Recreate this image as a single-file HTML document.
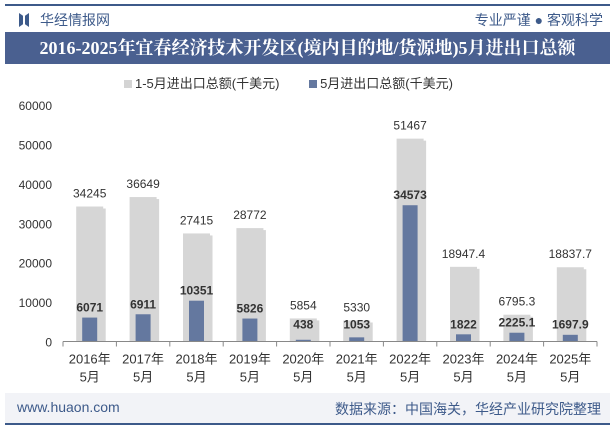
<!DOCTYPE html>
<html><head><meta charset="utf-8"><style>
body{margin:0;width:615px;height:427px;background:#fff;font-family:"Liberation Sans","Noto Sans CJK SC",sans-serif;overflow:hidden;position:relative}
.abs{position:absolute}
</style></head><body>
<div class="abs" style="left:5px;top:4px;width:605px;height:2px;background:#3d5a8a"></div>
<div class="abs" style="left:19px;top:13px;width:10px;height:14px;background:#3d5a8a;clip-path:polygon(0 0,40% 20%,40% 80%,0 100%,0 0,100% 0,100% 100%,60% 80%,60% 20%,100% 0)"></div>
<div class="abs" style="left:40px;top:10px;font-size:14px;color:#3d5a8a">华经情报网</div>
<div class="abs" style="right:12px;top:10px;font-size:14px;color:#3d5a8a">专业严谨 ● 客观科学</div>
<div class="abs" style="left:5px;top:32px;width:605px;height:32px;background:#4a6090;color:#fff;font:bold 18px 'Liberation Serif','Noto Serif CJK SC',serif;text-align:center;line-height:32px">2016-2025年宜春经济技术开发区(境内目的地/货源地)5月进出口总额</div>
<div class="abs" style="left:124px;top:73px;font-size:13px;color:#333;white-space:nowrap">
<span><span style="display:inline-block;width:8px;height:8px;background:#d4d4d4;margin-right:3px"></span>1-5月进出口总额(千美元)</span>
<span style="margin-left:26px"><span style="display:inline-block;width:8px;height:8px;background:#64789f;margin-right:3px"></span>5月进出口总额(千美元)</span></div>
<svg class="abs" style="left:0;top:0" width="615" height="427" id="chart"></svg>
<div class="abs" style="left:5px;top:393px;width:605px;height:30px;background:#f2f3f7;border-bottom:2px solid #3d5a8a"></div>
<div class="abs" style="left:17px;top:399px;font-size:14px;color:#3d5a8a">www.huaon.com</div>
<div class="abs" style="right:14px;top:399px;font-size:14px;color:#3d5a8a">数据来源：中国海关，华经产业研究院整理</div>
<script>
const categories=["2016年","2017年","2018年","2019年","2020年","2021年","2022年","2023年","2024年","2025年"];
const totalValues=[34245,36649,27415,28772,5854,5330,51467,18947.4,6795.3,18837.7];
const mayValues=[6071,6911,10351,5826,438,1053,34573,1822,2225.1,1697.9];
const totalLabels=["34245","36649","27415","28772","5854","5330","51467","18947.4","6795.3","18837.7"];
const mayLabels=["6071","6911","10351","5826","438","1053","34573","1822","2225.1","1697.9"];
const yTicks=[0,10000,20000,30000,40000,50000,60000];
const svg=document.getElementById('chart');const NS='http://www.w3.org/2000/svg';
const x0=63,cw=53.4,y0=341.5,yMax=60000,yH=236.5;
const y=v=>y0-v/yMax*yH;const cx=i=>x0+cw*(i+0.5);
function mk(t,a,txt){const e=document.createElementNS(NS,t);for(const k in a)e.setAttribute(k,a[k]);if(txt!=null)e.textContent=txt;svg.appendChild(e);return e;}
yTicks.forEach(v=>{const e=mk('text',{x:52,y:y(v)+5,'text-anchor':'end','font-size':12,fill:'#333'},v);

});
categories.forEach((c,i)=>{
const s=mk('rect',{x:cx(i)-12,y:y(totalValues[i])+2,width:28,height:y0-y(totalValues[i])-2,fill:'#bbb',opacity:0.6});


const b=mk('rect',{x:cx(i)-13.5,y:y(totalValues[i]),width:27,height:y0-y(totalValues[i]),fill:'#d6d6d6'});


const d=mk('rect',{x:cx(i)-7.5,y:y(mayValues[i]),width:15,height:y0-y(mayValues[i]),fill:'#64789f'});


const t=mk('text',{x:cx(i),y:y(totalValues[i])-9,'text-anchor':'middle','font-size':12,fill:'#333'},totalLabels[i]);


const m=mk('text',{x:cx(i),y:Math.min(y(mayValues[i])-6,y0-13),'text-anchor':'middle','font-size':12,'font-weight':'bold',fill:'#333'},mayLabels[i]);


const l1=mk('text',{x:cx(i),y:y0+22,'text-anchor':'middle','font-size':13,fill:'#333'},c);


const l2=mk('text',{x:cx(i),y:y0+40,'text-anchor':'middle','font-size':13,fill:'#333'},'5月');


});
const ax=mk('line',{x1:x0,x2:x0+cw*categories.length,y1:y0,y2:y0,stroke:'#888'});


for(let i=0;i<=categories.length;i++){const tk=mk('line',{x1:x0+cw*i,x2:x0+cw*i,y1:y0,y2:y0+5,stroke:'#888'});

}
</script>
</body></html>
